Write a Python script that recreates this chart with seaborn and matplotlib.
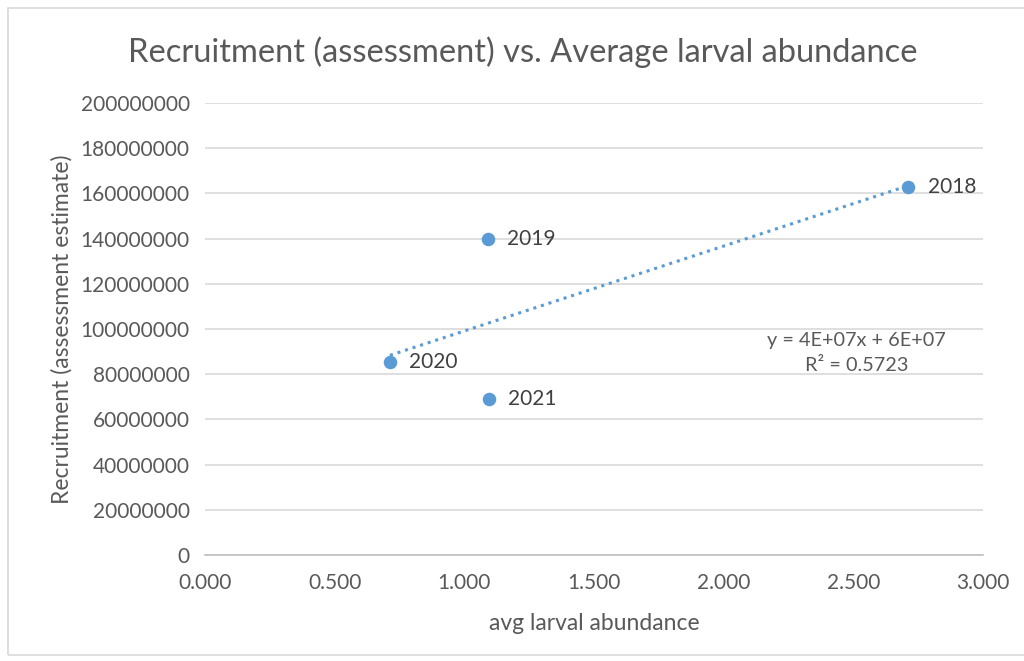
import numpy as np
import pandas as pd
import matplotlib.pyplot as plt
import seaborn as sns
from matplotlib.patches import Rectangle

# data
years = ["2018", "2019", "2020", "2021"]
larval = [2.711, 1.091, 0.713, 1.095]
recruitment = [162.8e6, 139.8e6, 85.4e6, 69.0e6]

df = pd.DataFrame({"year": years, "larval": larval, "recruitment": recruitment})

sns.set_theme(style="white")
plt.rcParams["font.family"] = ["Lato", "DejaVu Sans"]
grey = "#595959"
blue = "#5b9bd5"

fig = plt.figure(figsize=(10.24, 6.61), dpi=100)
fig.patches.append(Rectangle((8 / 1024, 6 / 661), 1020 / 1024, 647 / 661,
                             transform=fig.transFigure, fill=False,
                             edgecolor="#d9d9d9", linewidth=1.2))
ax = fig.add_axes([205 / 1024, 106 / 661, 778 / 1024, 452 / 661])

# linear trendline (Excel style), only across the data range
slope, intercept = np.polyfit(df["larval"], df["recruitment"], 1)
xs = np.array([df["larval"].min(), df["larval"].max()])
ax.plot(xs, slope * xs + intercept, linestyle=(0, (1, 1.6)), color=blue,
        linewidth=2.2, zorder=2)

sns.scatterplot(data=df, x="larval", y="recruitment", ax=ax, color=blue,
                s=95, edgecolor=blue, linewidth=0, zorder=3)

for _, r in df.iterrows():
    ax.text(r["larval"] + 0.075, r["recruitment"], r["year"], fontsize=15,
            color="#404040", va="center", ha="left")

ax.text(2.512, 89.5e6, "y = 4E+07x + 6E+07\nR² = 0.5723", fontsize=14.3,
        color=grey, ha="center", va="center", linespacing=1.6)

ax.set_xlim(0, 3)
ax.set_ylim(0, 200e6)
ax.set_xticks(np.arange(0, 3.01, 0.5))
ax.set_xticklabels([f"{v:.3f}" for v in np.arange(0, 3.01, 0.5)])
ax.set_yticks(np.arange(0, 200e6 + 1, 20e6))
ax.set_yticklabels([f"{int(v)}" for v in np.arange(0, 200e6 + 1, 20e6)])
ax.yaxis.grid(True, color="#d9d9d9", linewidth=1.2)
ax.set_axisbelow(True)
for s in ["top", "right", "left"]:
    ax.spines[s].set_visible(False)
ax.spines["bottom"].set_color("#bfbfbf")
ax.spines["bottom"].set_linewidth(1.2)
ax.tick_params(axis="both", colors=grey, labelsize=15, length=0)
ax.tick_params(axis="x", pad=13)
ax.tick_params(axis="y", pad=11)

ax.set_xlabel("avg larval abundance", fontsize=16.5, color=grey)
ax.xaxis.set_label_coords(0.5, -0.128)
ax.set_ylabel("Recruitment (assessment estimate)", fontsize=16.5, color=grey)
ax.yaxis.set_label_coords(-0.17, 0.5)
fig.text(523 / 1024, 1 - 52 / 661,
         "Recruitment (assessment) vs. Average larval abundance",
         fontsize=23.5, color=grey, ha="center", va="center")

fig.savefig("out.png", dpi=100)
